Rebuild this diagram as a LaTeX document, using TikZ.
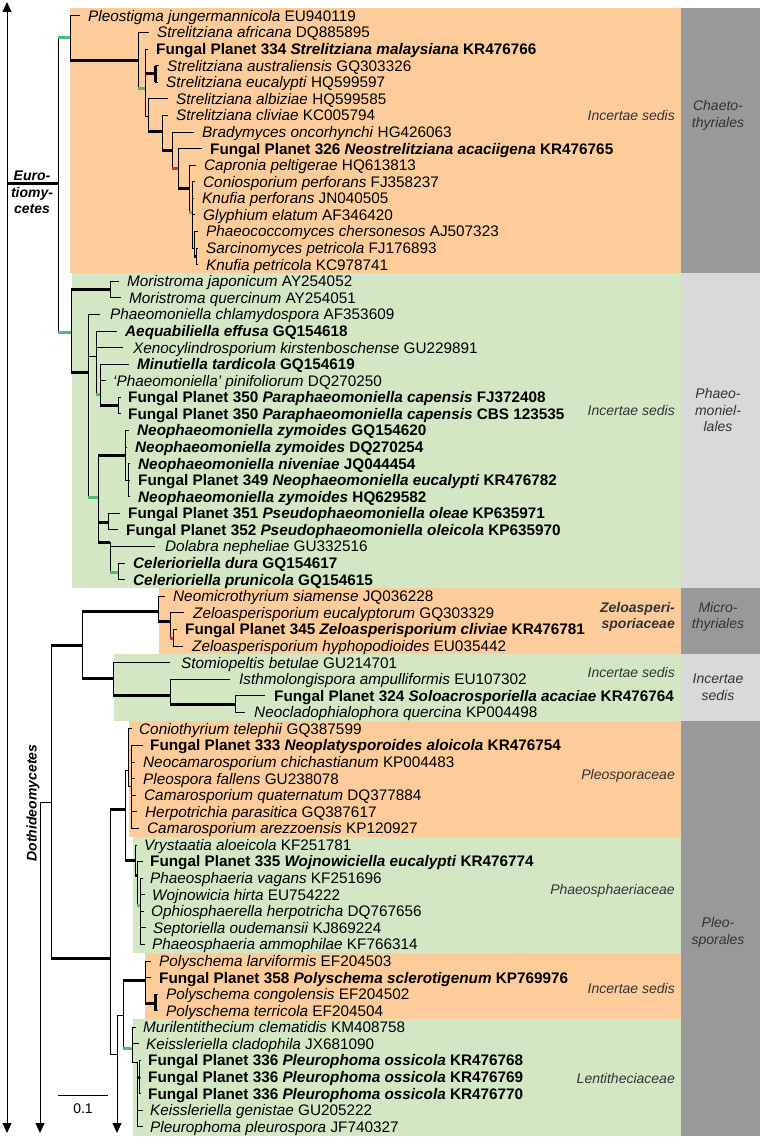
\documentclass[tikz,border=0pt]{standalone}
\usepackage{fontspec}
\setmainfont{Liberation Sans}
\usetikzlibrary{arrows.meta}
\definecolor{orangebox}{HTML}{FDCC9A}
\definecolor{greenbox}{HTML}{D3E7C5}
\definecolor{greydark}{HTML}{999999}
\definecolor{greylight}{HTML}{D9D9D9}
\definecolor{greenmark}{HTML}{4DBE6E}
\definecolor{redmark}{HTML}{E8282B}
\definecolor{labelgrey}{HTML}{333333}
\newcommand\leaffont{\fontsize{15.3}{17}\selectfont}
\newcommand\labfont{\fontsize{14}{16.5}\selectfont\itshape}
\newcommand\clsfont{\fontsize{14}{15.5}\selectfont\bfseries\itshape}
\tikzset{
  tree/.style={line width=1pt},
  thk/.style={line width=3pt},
  gmark/.style={line width=3pt, draw=greenmark},
  rmark/.style={line width=3pt, draw=redmark},
  leaftext/.style={anchor=base west, inner sep=0pt, font=\leaffont},
  famlabel/.style={anchor=east, inner sep=0pt, font=\labfont, text=labelgrey, align=right},
  ordlabel/.style={inner sep=0pt, font=\labfont, text=labelgrey, align=center},
  clslabel/.style={inner sep=0pt, font=\clsfont, align=center},
  arr/.tip={Triangle[length=10pt,width=9pt]}
}
\newcommand\leafnode[5]{%
  \coordinate (#1) at (#3,{16+(#2-1)*16.58});
  \node[leaftext] (#1txt) at (#4,{16+(#2-1)*16.58+5.4}) {#5};}
\newcommand\tbranch[3][]{\draw[tree] (#2) |- (#3);\draw[tree,#1] (#2 |- #3) -- (#3);}
\begin{document}
\begin{tikzpicture}[x=1pt,y=-1pt]
\useasboundingbox (0,0) rectangle (760,1137);
% coloured boxes
\fill[orangebox] (70,7.7) rectangle (681,273);
\fill[greenbox] (72,273) rectangle (681,588);
\fill[orangebox] (159,588) rectangle (681,654.3);
\fill[greenbox] (114,654.3) rectangle (681,720.7);
\fill[orangebox] (129,720.7) rectangle (681,836.7);
\fill[greenbox] (133,836.7) rectangle (681,952.8);
\fill[orangebox] (145,952.8) rectangle (681,1019);
\fill[greenbox] (133,1019) rectangle (681,1135.5);
\fill[greydark] (681,7.7) rectangle (760,273);
\fill[greylight] (681,273) rectangle (760,588);
\fill[greydark] (681,588) rectangle (760,654.3);
\fill[greylight] (681,654.3) rectangle (760,720.7);
\fill[greydark] (681,720.7) rectangle (760,1135.5);

% leaves
\leafnode{t1}{1}{80}{88}{\textit{Pleostigma jungermannicola} EU940119}
\leafnode{t2}{2}{149}{157}{\textit{Strelitziana africana} DQ885895}
\leafnode{t3}{3}{148}{156}{\textbf{Fungal Planet 334 \textit{Strelitziana malaysiana} KR476766}}
\leafnode{t4}{4}{159}{167}{\textit{Strelitziana australiensis} GQ303326}
\leafnode{t5}{5}{158}{166}{\textit{Strelitziana eucalypti} HQ599597}
\leafnode{t6}{6}{168}{176}{\textit{Strelitziana albiziae} HQ599585}
\leafnode{t7}{7}{168}{176}{\textit{Strelitziana cliviae} KC005794}
\leafnode{t8}{8}{194}{202}{\textit{Bradymyces oncorhynchi} HG426063}
\leafnode{t9}{9}{202}{210}{\textbf{Fungal Planet 326 \textit{Neostrelitziana acaciigena} KR476765}}
\leafnode{t10}{10}{196}{204}{\textit{Capronia peltigerae} HQ613813}
\leafnode{t11}{11}{195}{203}{\textit{Coniosporium perforans} FJ358237}
\leafnode{t12}{12}{194}{202}{\textit{Knufia perforans} JN040505}
\leafnode{t13}{13}{195}{203}{\textit{Glyphium elatum} AF346420}
\leafnode{t14}{14}{198}{206}{\textit{Phaeococcomyces chersonesos} AJ507323}
\leafnode{t15}{15}{198}{206}{\textit{Sarcinomyces petricola} FJ176893}
\leafnode{t16}{16}{198}{206}{\textit{Knufia petricola} KC978741}
\leafnode{t17}{17}{119}{127}{\textit{Moristroma japonicum} AY254052}
\leafnode{t18}{18}{121}{129}{\textit{Moristroma quercinum} AY254051}
\leafnode{t19}{19}{100}{110}{\textit{Phaeomoniella chlamydospora} AF353609}
\leafnode{t20}{20}{117}{125}{\textbf{\textit{Aequabiliella effusa} GQ154618}}
\leafnode{t21}{21}{123}{133}{\textit{Xenocylindrosporium kirstenboschense} GU229891}
\leafnode{t22}{22}{129}{137}{\textbf{\textit{Minutiella tardicola} GQ154619}}
\leafnode{t23}{23}{106}{113}{\textit{‘Phaeomoniella’ pinifoliorum} DQ270250}
\leafnode{t24}{24}{121}{128}{\textbf{Fungal Planet 350 \textit{Paraphaeomoniella capensis} FJ372408}}
\leafnode{t25}{25}{121}{128}{\textbf{Fungal Planet 350 \textit{Paraphaeomoniella capensis} CBS 123535}}
\leafnode{t26}{26}{129}{137}{\textbf{\textit{Neophaeomoniella zymoides} GQ154620}}
\leafnode{t27}{27}{127}{135}{\textbf{\textit{Neophaeomoniella zymoides} DQ270254}}
\leafnode{t28}{28}{130}{138}{\textbf{\textit{Neophaeomoniella niveniae} JQ044454}}
\leafnode{t29}{29}{130}{138}{\textbf{Fungal Planet 349 \textit{Neophaeomoniella eucalypti} KR476782}}
\leafnode{t30}{30}{130}{138}{\textbf{\textit{Neophaeomoniella zymoides} HQ629582}}
\leafnode{t31}{31}{120}{128}{\textbf{Fungal Planet 351 \textit{Pseudophaeomoniella oleae} KP635971}}
\leafnode{t32}{32}{118}{126}{\textbf{Fungal Planet 352 \textit{Pseudophaeomoniella oleicola} KP635970}}
\leafnode{t33}{33}{155}{165}{\textit{Dolabra nepheliae} GU332516}
\leafnode{t34}{34}{125}{133}{\textbf{\textit{Celerioriella dura} GQ154617}}
\leafnode{t35}{35}{125}{133}{\textbf{\textit{Celerioriella prunicola} GQ154615}}
\leafnode{t36}{36}{165}{173}{\textit{Neomicrothyrium siamense} JQ036228}
\leafnode{t37}{37}{184}{193}{\textit{Zeloasperisporium eucalyptorum} GQ303329}
\leafnode{t38}{38}{177}{185}{\textbf{Fungal Planet 345 \textit{Zeloasperisporium cliviae} KR476781}}
\leafnode{t39}{39}{183}{192}{\textit{Zeloasperisporium hyphopodioides} EU035442}
\leafnode{t40}{40}{170}{181}{\textit{Stomiopeltis betulae} GU214701}
\leafnode{t41}{41}{230}{239}{\textit{Isthmolongispora ampulliformis} EU107302}
\leafnode{t42}{42}{265}{274}{\textbf{Fungal Planet 324 \textit{Soloacrosporiella acaciae} KR476764}}
\leafnode{t43}{43}{245}{254}{\textit{Neocladophialophora quercina} KP004498}
\leafnode{t44}{44}{132}{139}{\textit{Coniothyrium telephii} GQ387599}
\leafnode{t45}{45}{143}{150}{\textbf{Fungal Planet 333 \textit{Neoplatysporoides aloicola} KR476754}}
\leafnode{t46}{46}{135}{143}{\textit{Neocamarosporium chichastianum} KP004483}
\leafnode{t47}{47}{135}{143}{\textit{Pleospora fallens} GU238078}
\leafnode{t48}{48}{136}{144}{\textit{Camarosporium quaternatum} DQ377884}
\leafnode{t49}{49}{137}{145}{\textit{Herpotrichia parasitica} GQ387617}
\leafnode{t50}{50}{139}{147}{\textit{Camarosporium arezzoensis} KP120927}
\leafnode{t51}{51}{137}{144}{\textit{Vrystaatia aloeicola} KF251781}
\leafnode{t52}{52}{143}{150}{\textbf{Fungal Planet 335 \textit{Wojnowiciella eucalypti} KR476774}}
\leafnode{t53}{53}{143}{150}{\textit{Phaeosphaeria vagans} KF251696}
\leafnode{t54}{54}{145}{152}{\textit{Wojnowicia hirta} EU754222}
\leafnode{t55}{55}{144}{151}{\textit{Ophiosphaerella herpotricha} DQ767656}
\leafnode{t56}{56}{146}{153}{\textit{Septoriella oudemansii} KJ869224}
\leafnode{t57}{57}{145}{152}{\textit{Phaeosphaeria ammophilae} KF766314}
\leafnode{t58}{58}{151}{159}{\textit{Polyschema larviformis} EF204503}
\leafnode{t59}{59}{151}{159}{\textbf{Fungal Planet 358 \textit{Polyschema sclerotigenum} KP769976}}
\leafnode{t60}{60}{158}{166}{\textit{Polyschema congolensis} EF204502}
\leafnode{t61}{61}{158}{166}{\textit{Polyschema terricola} EF204504}
\leafnode{t62}{62}{136}{143}{\textit{Murilentithecium clematidis} KM408758}
\leafnode{t63}{63}{139}{146}{\textit{Keissleriella cladophila} JX681090}
\leafnode{t64}{64}{141}{148}{\textbf{Fungal Planet 336 \textit{Pleurophoma ossicola} KR476768}}
\leafnode{t65}{65}{141}{148}{\textbf{Fungal Planet 336 \textit{Pleurophoma ossicola} KR476769}}
\leafnode{t66}{66}{141}{148}{\textbf{Fungal Planet 336 \textit{Pleurophoma ossicola} KR476770}}
\leafnode{t67}{67}{143}{150}{\textit{Keissleriella genistae} GU205222}
\leafnode{t68}{68}{143}{150}{\textit{Pleurophoma pleurospora} JF740327}

% internal nodes
\coordinate (axtop) at (7,2);
\coordinate (axbot) at (7,1133);
\coordinate (eu0) at (7,183);
\coordinate (E) at (58,183);
\coordinate (RC) at (70,38);
\coordinate (N1) at (138,61);
\coordinate (N2) at (145,89);
\coordinate (N2a) at (155,74);
\coordinate (N3) at (148,117);
\coordinate (N4) at (162,132);
\coordinate (N5) at (172,150);
\coordinate (N6) at (178,168);
\coordinate (N7) at (189,188);
\coordinate (N8) at (192,212);
\coordinate (N9) at (194,248);
\coordinate (N9a) at (196,256);
\coordinate (RP) at (71,332);
\coordinate (NM) at (110,289.6);
\coordinate (P1) at (88,372);
\coordinate (P2) at (96,356);
\coordinate (P2a) at (100,394);
\coordinate (PP) at (118,405.6);
\coordinate (P4) at (98,497);
\coordinate (NEO) at (125,455);
\coordinate (NEOb) at (128,480);
\coordinate (PS) at (108,522);
\coordinate (P5) at (110,542);
\coordinate (CE) at (118,572);
\coordinate (DR) at (40,802);
\coordinate (DRbot) at (40,1133);
\coordinate (D) at (51,802);
\coordinate (D1) at (82,645);
\coordinate (MI) at (158,611);
\coordinate (Z) at (170,621);
\coordinate (Z2) at (173,638);
\coordinate (IS) at (113,678);
\coordinate (IS2) at (170,695);
\coordinate (IS3) at (235,704);
\coordinate (D2) at (110,958);
\coordinate (A) at (125,809);
\coordinate (PL) at (128,770);
\coordinate (PL2) at (131,786);
\coordinate (PH) at (135,860);
\coordinate (PH2) at (137,875);
\coordinate (PH3) at (140,905);
\coordinate (Q) at (117,1054);
\coordinate (Qbot) at (117,1133);
\coordinate (B) at (123,1015);
\coordinate (PO) at (145,980);
\coordinate (PO2) at (155,1003);
\coordinate (LE) at (132,1048);
\coordinate (LE2) at (137,1062);
\coordinate (LE3) at (139,1077);

% axis and class stems
\draw[tree,arr-arr] (axtop) -- (axbot);
\draw[thk] (eu0) -- (E);
\draw[tree,-arr] (DR) -- (DRbot);
\draw[tree] (DR) -- (D);
\draw[tree,-arr] (Q) -- (Qbot);

% Eurotiomycetes
\tbranch[gmark]{E}{RC}
\tbranch[gmark]{E}{RP}
\tbranch{RC}{t1}
\tbranch[thk]{RC}{N1}
\tbranch{N1}{t2}
\tbranch[gmark]{N1}{N2}
\tbranch{N2}{t3}
\tbranch[thk]{N2}{N2a}
\tbranch{N2}{N3}
\tbranch{N2a}{t4}
\tbranch{N2a}{t5}
\draw[thk] (t4 -| N2a) -- (t5 -| N2a);
\tbranch{N3}{t6}
\tbranch[thk]{N3}{N4}
\tbranch{N4}{t7}
\tbranch[thk]{N4}{N5}
\tbranch{N5}{t8}
\tbranch[rmark]{N5}{N6}
\tbranch{N6}{t9}
\tbranch[thk]{N6}{N7}
\tbranch{N7}{t10}
\tbranch[gmark]{N7}{N8}
\tbranch{N8}{t11}
\tbranch{N8}{t12}
\tbranch{N8}{t13}
\tbranch{N8}{N9}
\tbranch{N9}{t14}
\tbranch[thk]{N9}{N9a}
\tbranch{N9a}{t15}
\tbranch{N9a}{t16}

\tbranch[thk]{RP}{NM}
\tbranch[thk]{RP}{P1}
\tbranch{NM}{t17}
\tbranch{NM}{t18}
\tbranch{P1}{t19}
\tbranch{P1}{P2}
\tbranch[gmark]{P1}{P4}
\tbranch{P2}{t20}
\tbranch{P2}{t21}
\tbranch[gmark]{P2}{P2a}
\tbranch{P2a}{t22}
\tbranch{P2a}{t23}
\tbranch[thk]{P2a}{PP}
\tbranch{PP}{t24}
\tbranch{PP}{t25}
\tbranch[thk]{P4}{NEO}
\tbranch[thk]{P4}{PS}
\tbranch[thk]{P4}{P5}
\tbranch{NEO}{t26}
\tbranch{NEO}{t27}
\tbranch{NEO}{NEOb}
\tbranch{NEOb}{t28}
\tbranch{NEOb}{t29}
\tbranch{NEOb}{t30}
\tbranch{PS}{t31}
\tbranch{PS}{t32}
\tbranch{P5}{t33}
\tbranch[gmark]{P5}{CE}
\tbranch{CE}{t34}
\tbranch{CE}{t35}

% Dothideomycetes
\tbranch[thk]{D}{D1}
\tbranch[thk]{D}{D2}
\tbranch[thk]{D1}{MI}
\tbranch[thk]{D1}{IS}
\tbranch{MI}{t36}
\tbranch[thk]{MI}{Z}
\tbranch{Z}{t37}
\tbranch[rmark]{Z}{Z2}
\tbranch{Z2}{t38}
\tbranch{Z2}{t39}
\tbranch{IS}{t40}
\tbranch[thk]{IS}{IS2}
\tbranch{IS2}{t41}
\tbranch[thk]{IS2}{IS3}
\tbranch{IS3}{t42}
\tbranch{IS3}{t43}
\tbranch[thk]{D2}{A}
\tbranch{D2}{Q}
\tbranch{A}{PL}
\tbranch[thk]{A}{PH}
\tbranch{PL}{t44}
\tbranch{PL}{PL2}
\tbranch{PL2}{t45}
\tbranch{PL2}{t46}
\tbranch{PL2}{t47}
\tbranch{PL2}{t48}
\tbranch{PL2}{t49}
\tbranch{PL2}{t50}
\tbranch{PH}{t51}
\tbranch[thk]{PH}{PH2}
\tbranch{PH2}{t52}
\tbranch[gmark]{PH2}{PH3}
\tbranch{PH3}{t53}
\tbranch{PH3}{t54}
\tbranch{PH3}{t55}
\tbranch{PH3}{t56}
\tbranch{PH3}{t57}
\tbranch{Q}{B}
\tbranch[thk]{B}{PO}
\tbranch[gmark]{B}{LE}
\tbranch{PO}{t58}
\tbranch{PO}{t59}
\tbranch[thk]{PO}{PO2}
\tbranch{PO2}{t60}
\tbranch{PO2}{t61}
\draw[thk] (t60 -| PO2) -- (t61 -| PO2);
\tbranch{LE}{t62}
\tbranch{LE}{t63}
\tbranch{LE}{LE2}
\tbranch[thk]{LE2}{LE3}
\tbranch{LE2}{t67}
\tbranch{LE2}{t68}
\tbranch{LE3}{t64}
\tbranch{LE3}{t65}
\tbranch{LE3}{t66}

% class labels
\node[clslabel] (euro1) at (32,175.5) {Euro-};
\node[clslabel] (euro2) at (32,200.5) {tiomy-\\cetes};
\node[clslabel, rotate=90] (doth) at (33,803) {Dothideomycetes};

% family labels
\node[famlabel] (fam1) at (675,115) {Incertae sedis};
\node[famlabel] (fam2) at (675,410) {Incertae sedis};
\node[famlabel, font=\fontsize{14}{16.5}\selectfont\bfseries\itshape] (fam3) at (675,617) {Zeloasperi-\\sporiaceae};
\node[famlabel] (fam4) at (675,672) {Incertae sedis};
\node[famlabel] (fam5) at (675,776) {Pleosporaceae};
\node[famlabel] (fam6) at (675,891) {Phaeosphaeriaceae};
\node[famlabel] (fam7) at (675,988) {Incertae sedis};
\node[famlabel] (fam8) at (675,1078) {Lentitheciaceae};

% order labels
\node[ordlabel] (ord1) at (718,115.5) {Chaeto-\\thyriales};
\node[ordlabel] (ord2) at (718,410) {Phaeo-\\moniel-\\lales};
\node[ordlabel] (ord3) at (718,617) {Micro-\\thyriales};
\node[ordlabel] (ord4) at (718,687) {Incertae\\sedis};
\node[ordlabel] (ord5) at (718,932.5) {Pleo-\\sporales};

% scale bar
\coordinate (sb1) at (58,1095);
\coordinate (sb2) at (108,1095);
\draw[tree] (sb1) -- (sb2);
\node[inner sep=0pt, font=\fontsize{14}{16}\selectfont] (sblab) at (83,1109) {0.1};
\end{tikzpicture}
\end{document}
